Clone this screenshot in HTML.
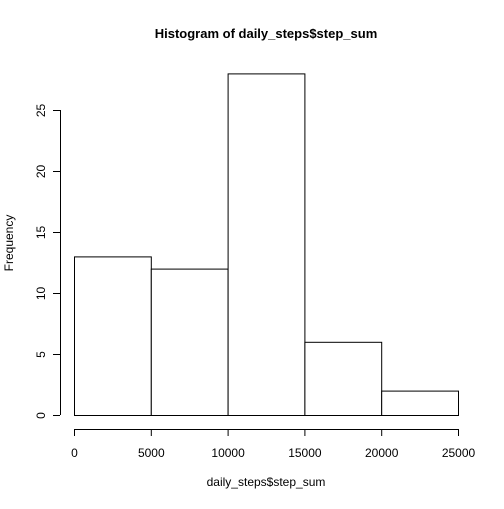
<!DOCTYPE html>
<html><head><meta charset="utf-8"><style>
body{margin:0;background:#fff}
svg text{font-family:"Liberation Sans",Arial,sans-serif;fill:#000}
</style></head><body>
<svg id="chart" width="504" height="504">
<rect width="504" height="504" fill="#fff"/>
<text x="266" y="38" text-anchor="middle" font-size="13" font-weight="bold">Histogram of daily_steps$step_sum</text>
<text x="266" y="486" text-anchor="middle" font-size="12">daily_steps$step_sum</text>
<text transform="translate(13,243) rotate(-90)" text-anchor="middle" font-size="12">Frequency</text>
<g id="bars"></g><g id="xaxis"></g><g id="yaxis"></g>
</svg>
<script>
const breaks=[0,5000,10000,15000,20000,25000];
const counts=[13,12,28,6,2];
const xTicks=[0,5000,10000,15000,20000,25000];
const yTicks=[0,5,10,15,20,25];
const NS="http://www.w3.org/2000/svg";
function X(v){return 74+v*(458-74)/25000;}
function Y(v){return 415-v*(415-110)/25;}
function mk(t,a,p){const e=document.createElementNS(NS,t);for(const k in a)e.setAttribute(k,a[k]);p.appendChild(e);return e;}
const bars=document.getElementById('bars');
counts.forEach((c,i)=>{
 const r=mk('rect',{x:X(breaks[i])+0.5,y:Y(c)+0.5,width:X(breaks[i+1])-X(breaks[i]),height:Y(0)-Y(c),fill:'#fff',stroke:'#000','stroke-width':1},bars);
 
 
});
const xa=document.getElementById('xaxis');
const xl=mk('line',{x1:X(xTicks[0]),x2:X(xTicks[xTicks.length-1]),y1:429.5,y2:429.5,stroke:'#000'},xa);


xTicks.forEach(v=>{
 mk('line',{x1:X(v)+0.5,x2:X(v)+0.5,y1:429,y2:436,stroke:'#000'},xa);
 const t=mk('text',{x:X(v)+0.5,y:457,'text-anchor':'middle','font-size':12},xa);
 t.textContent=v;
 
 
});
const ya=document.getElementById('yaxis');
const yl=mk('line',{x1:60.5,x2:60.5,y1:Y(yTicks[0]),y2:Y(yTicks[yTicks.length-1]),stroke:'#000'},ya);


yTicks.forEach(v=>{
 mk('line',{x1:53,x2:60,y1:Y(v)+0.5,y2:Y(v)+0.5,stroke:'#000'},ya);
 const t=mk('text',{transform:`translate(45,${Y(v)+0.5}) rotate(-90)`,'text-anchor':'middle','font-size':12},ya);
 t.textContent=v;
 
 
});
</script>
</body></html>
